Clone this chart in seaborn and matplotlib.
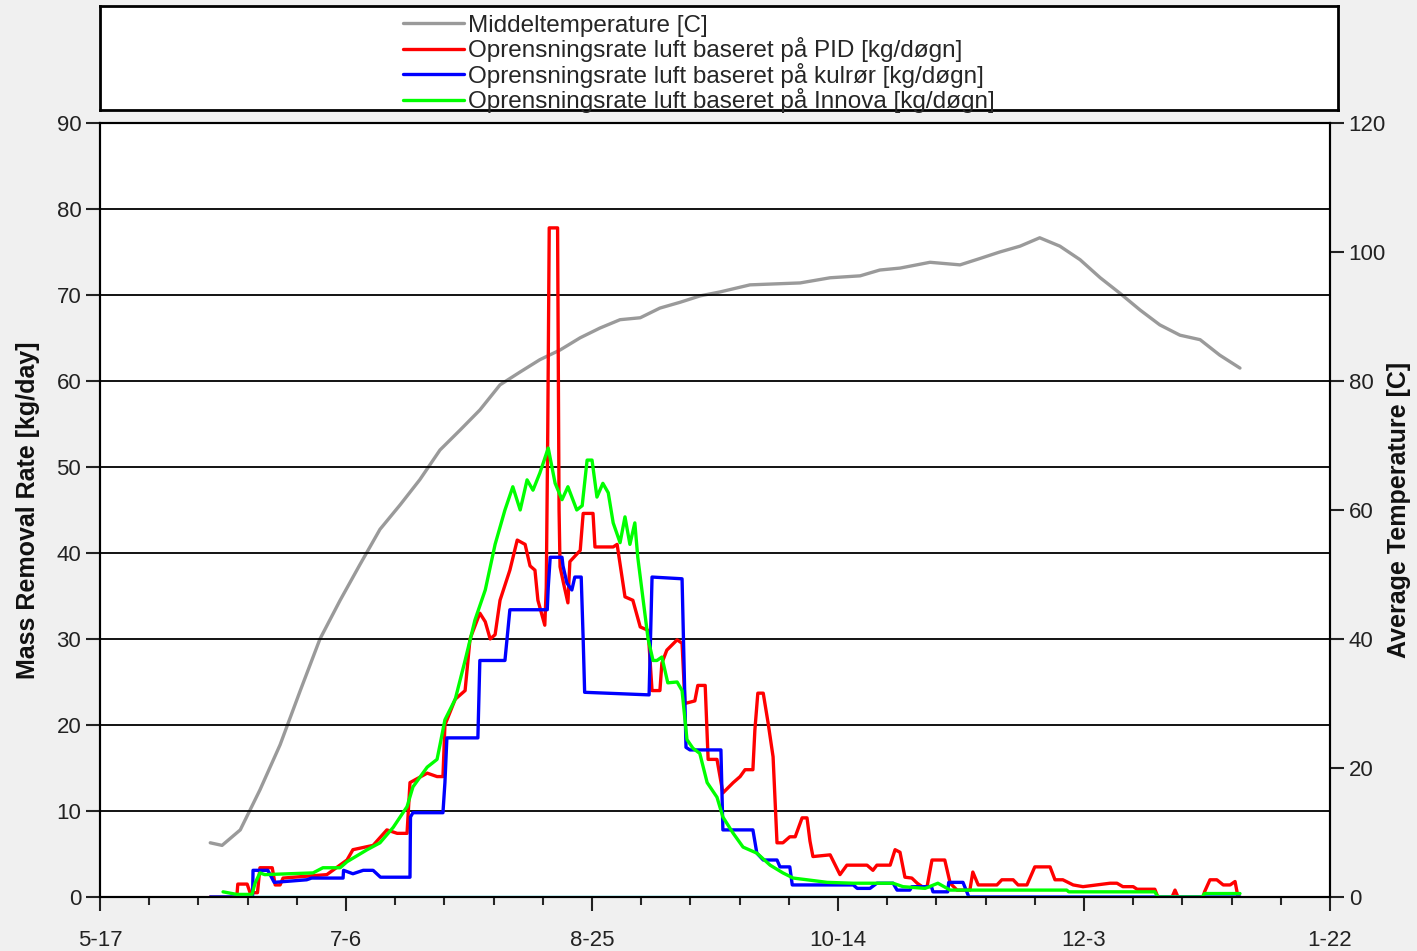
import seaborn as sns
import pandas as pd
import matplotlib.pyplot as plt
from matplotlib.ticker import MultipleLocator

# days counted from 5-17
tick_days = [0, 50, 100, 150, 200, 250]
tick_labels = ['5-17', '7-6', '8-25', '10-14', '12-3', '1-22']

temp_day = [22.4, 24.8, 28.5, 32.5, 36.6, 40.7, 44.7, 48.8, 52.8, 56.9, 61, 65, 69.1, 73.2,
            77.2, 81.3, 85.4, 89.4, 93.5, 97.6, 101.6, 105.7, 109.8, 113.8, 117.9, 122, 126,
            132.1, 142.3, 148.4, 154.5, 158.5, 162.6, 168.7, 174.8, 178.9, 182.9, 187, 191,
            195.1, 199.2, 203.3, 207.3, 211.4, 215.4, 219.5, 223.6, 227.6, 231.7]
temp_val = [8.4, 8, 10.4, 16.6, 23.6, 32, 40, 46, 51.5, 57, 60.8, 64.7, 69.3, 72.4,
            75.5, 79.4, 81.4, 83.3, 84.8, 86.7, 88.2, 89.5, 89.8, 91.3, 92.2, 93.2, 93.8,
            94.9, 95.2, 96, 96.3, 97.2, 97.5, 98.4, 98, 99, 100, 100.9, 102.2,
            100.9, 98.8, 96, 93.6, 91, 88.7, 87.1, 86.4, 84, 82]

pid_day = [22.4, 27.8, 28, 29.9, 30.5, 32, 32.5, 35, 35.6, 36.6, 37.2, 46.1, 50.2, 51.4, 55.5,
           58.3, 60.4, 62.4, 63, 66.5, 68.5, 69.7, 70.1, 72.2, 74.2, 75.2, 77.2, 78.3, 79.3,
           80.3, 81.3, 83.3, 84.8, 86.4, 87.4, 88.4, 89, 90.4, 90.7, 91, 91.3, 93, 93.3, 93.5,
           94.2, 95.1, 95.5, 97.6, 98.2, 100.2, 100.6, 104.3, 105.1, 106.7, 108.3, 109.8, 111.4,
           112.2, 113.8, 114.2, 115.2, 117.3, 118.3, 118.9, 120.9, 121.5, 123, 123.6, 125.4,
           126.6, 128.7, 130.1, 131.1, 132.7, 133.1, 133.7, 134.8, 135.8, 136.8, 137.6, 138.8,
           140.2, 141.3, 142.7, 143.7, 144.3, 144.9, 148.4, 150.4, 151.8, 155.9, 157.1, 157.9,
           160.6, 161.6, 162.6, 163.6, 165, 166.1, 167.1, 168.1, 169.1, 171.7, 172.8, 174.2,
           176.8, 177.4, 178.5, 182.3, 183.3, 185.6, 186.6, 188.4, 190, 193.1, 194.1, 195.7,
           197.8, 199.8, 205.3, 206.7, 207.9, 210, 210.8, 214.4, 215, 217.9, 218.5, 219.1,
           224.2, 224.5, 225.6, 227, 228.3, 229.7, 230.7, 231.3, 231.7]
pid_val = [0, 0, 1.5, 1.5, 0.5, 0.5, 3.4, 3.4, 1.4, 1.4, 2.2, 2.6, 4.3, 5.5, 6,
           7.8, 7.4, 7.4, 13.3, 14.4, 14, 14, 20, 23, 24, 30, 33, 32, 30,
           30.5, 34.5, 38, 41.5, 41, 38.5, 38, 34.5, 31.6, 36, 54, 77.8, 77.8, 45, 38.4,
           36.5, 34.2, 39, 40.3, 44.6, 44.6, 40.7, 40.7, 41, 34.9, 34.5, 31.4, 31,
           24, 24, 27.2, 28.7, 29.9, 29.5, 22.5, 22.8, 24.6, 24.6, 16, 16,
           12.1, 13.3, 14, 14.8, 14.8, 19.4, 23.7, 23.7, 20.2, 16.3, 6.3, 6.3,
           7, 7, 9.2, 9.2, 6.5, 4.7, 4.9, 2.6, 3.7, 3.7, 3.1, 3.7,
           3.7, 5.5, 5.2, 2.3, 2.2, 1.6, 1.2, 1.2, 4.3, 4.3, 1.6, 0.8,
           0.8, 2.9, 1.4, 1.4, 2, 2, 1.4, 1.4, 3.5, 3.5, 2, 2,
           1.4, 1.2, 1.6, 1.6, 1.2, 1.2, 0.9, 0.9, 0, 0, 0.8, 0,
           0, 0.6, 2, 2, 1.4, 1.4, 1.8, 0, 0]

kul_day = [22.4, 31, 31.1, 34.1, 35.4, 42, 43, 49.4, 49.5, 51.4, 53.5, 55.5, 57, 63, 63.1,
           63.6, 69.7, 70.1, 70.5, 76.8, 77.2, 82.3, 83.3, 90.9, 91.1, 91.5, 93.9, 94.1, 94.9,
           95.9, 96.5, 97.8, 98.2, 98.5, 111.6, 112.2, 118.3, 119.1, 119.9, 126.2, 126.6, 132.7,
           133.5, 134.8, 137.6, 138.2, 140.2, 140.7, 153.1, 153.9, 156.5, 157.9, 161.2, 162,
           164.6, 165, 169, 169.3, 172.3, 172.5, 175.4, 176.6, 231.7]
kul_val = [0, 0, 3.1, 3.1, 1.7, 2, 2.2, 2.2, 3.1, 2.7, 3.1, 3.1, 2.3, 2.3, 9.3,
           9.8, 9.8, 13.3, 18.5, 18.5, 27.5, 27.5, 33.4, 33.4, 36, 39.5, 39.5, 38.5, 36.5,
           35.7, 37.2, 37.2, 30, 23.8, 23.5, 37.2, 37, 17.4, 17.1, 17.1, 7.8, 7.8,
           5.1, 4.3, 4.3, 3.5, 3.5, 1.4, 1.4, 1, 1, 1.6, 1.6, 0.8,
           0.8, 1.2, 1.2, 0.6, 0.6, 1.7, 1.7, 0, 0]

inn_day = [25, 27.8, 30.9, 31.5, 32.5, 33.5, 43.3, 45.3, 48.8, 50.2, 54.3, 56.9, 59.6, 62.4,
           63.6, 66.5, 68.5, 69.1, 70.1, 72.2, 74.2, 76.2, 78.3, 80.3, 82.3, 83.9, 85.4, 86.8,
           88, 89.4, 91.1, 92.5, 93.9, 95.1, 96.9, 98, 99, 100, 101, 102.2, 103.3, 104.3,
           105.7, 106.7, 107.7, 108.7, 109.3, 110.4, 111.4, 112.4, 113.2, 114.2, 115.4, 117.3,
           118.3, 119.3, 120.5, 121.9, 123.4, 125.4, 126.6, 128.7, 130.7, 133.5, 136.2, 138.8,
           140.9, 143.7, 147.8, 153.1, 158.5, 161.2, 163.2, 167.7, 170.3, 172.8, 196.5, 196.9,
           214.4, 215, 224, 224.5, 231.7]
inn_val = [0.6, 0.3, 0.3, 1.6, 2.8, 2.6, 2.8, 3.4, 3.4, 4.1, 5.5, 6.3, 8.1, 10.5,
           12.8, 15.1, 16, 17.7, 20.6, 23, 27.5, 32.2, 35.7, 41, 45, 47.7, 45, 48.5,
           47.3, 49.3, 52.2, 48.1, 46.2, 47.7, 45, 45.5, 50.8, 50.8, 46.5, 48.1, 47, 43.5,
           41.2, 44.2, 41, 43.5, 39.5, 34.5, 30, 27.5, 27.5, 27.9, 24.9, 25,
           24, 18.3, 17.3, 16.7, 13.3, 11.6, 9.3, 7.4, 5.8, 5.1, 3.7, 2.8,
           2.2, 2, 1.7, 1.6, 1.6, 1.6, 1.2, 1, 1.6, 0.8, 0.8, 0.6,
           0.6, 0, 0, 0.4, 0.4]

zero_day = [22.4, 231.7]
zero_val = [0, 0]

labels = ['Middeltemperature [C]',
          'Oprensningsrate luft baseret på PID [kg/døgn]',
          'Oprensningsrate luft baseret på kulrør [kg/døgn]',
          'Oprensningsrate luft baseret på Innova [kg/døgn]']

sns.set_style('white')
plt.rcParams['font.family'] = ['Liberation Sans Narrow', 'Liberation Sans', 'DejaVu Sans']

fig = plt.figure(figsize=(14.17, 9.51), dpi=100, facecolor='#f0f0f0')
ax = fig.add_axes([0.0706, 0.0568, 0.868, 0.8139])
ax2 = ax.twinx()
ax.set_zorder(ax2.get_zorder() + 1)
ax.patch.set_visible(False)
ax2.patch.set_visible(True)
ax2.patch.set_facecolor('white')

lw = 2.4
temp_df = pd.DataFrame({'day': temp_day, 'v': temp_val})
sns.lineplot(data=temp_df, x='day', y='v', ax=ax2, color='#9a9a9a', lw=lw, sort=False,
             estimator=None, label=labels[0], legend=False)
for d, v, c, lab in [(pid_day, pid_val, '#ff0000', labels[1]),
                     (kul_day, kul_val, '#0000ff', labels[2]),
                     (inn_day, inn_val, '#00ff00', labels[3]),
                     (zero_day, zero_val, '#00e8f0', '_nolegend_')]:
    sns.lineplot(data=pd.DataFrame({'day': d, 'v': v}), x='day', y='v', ax=ax, color=c,
                 lw=lw, sort=False, estimator=None, label=lab, legend=False)

ax.set_xlim(0, 250)
ax.set_ylim(0, 90)
ax2.set_ylim(0, 120)
ax.set_xticks(tick_days)
ax.set_xticklabels(tick_labels)
ax.xaxis.set_minor_locator(MultipleLocator(10))
ax.set_yticks(range(0, 91, 10))
ax2.set_yticks(range(0, 121, 20))
ax.yaxis.grid(True, color='black', lw=1.3)
ax.set_axisbelow(True)

ax.tick_params(axis='x', which='major', length=10, width=1.5, direction='out', pad=14,
               labelsize=16, colors='#222222', bottom=True)
ax.tick_params(axis='x', which='minor', length=6, width=1.5, direction='out', bottom=True)
ax.tick_params(axis='y', length=10, width=1.5, direction='out', labelsize=16,
               colors='#222222', left=True)
ax2.tick_params(axis='y', length=10, width=1.5, direction='out', labelsize=16,
                colors='#222222', right=True)
for a in (ax, ax2):
    for s in a.spines.values():
        s.set_color('black')
        s.set_linewidth(1.5)

ax.set_xlabel('')
ax.set_ylabel('Mass Removal Rate [kg/day]', fontsize=18, fontweight='bold', labelpad=12,
              color='#111111')
ax2.set_ylabel('Average Temperature [C]', fontsize=18, fontweight='bold', labelpad=1,
               color='#111111')

# legend box above the plot
lax = fig.add_axes([0.0706, 0.8843, 0.8737, 0.1094])
lax.set_xticks([])
lax.set_yticks([])
lax.set_facecolor('white')
for s in lax.spines.values():
    s.set_color('black')
    s.set_linewidth(2)
handles = ax2.get_lines()[:1] + [l for l in ax.get_lines() if not l.get_label().startswith('_')]
lax.legend(handles, labels, loc='upper left', bbox_to_anchor=(0.237, 1.01), frameon=False,
           fontsize=17.5, handlelength=2.5, handletextpad=0.15, labelspacing=0.02,
           borderaxespad=0)

fig.savefig('out.png', dpi=100, facecolor=fig.get_facecolor())
